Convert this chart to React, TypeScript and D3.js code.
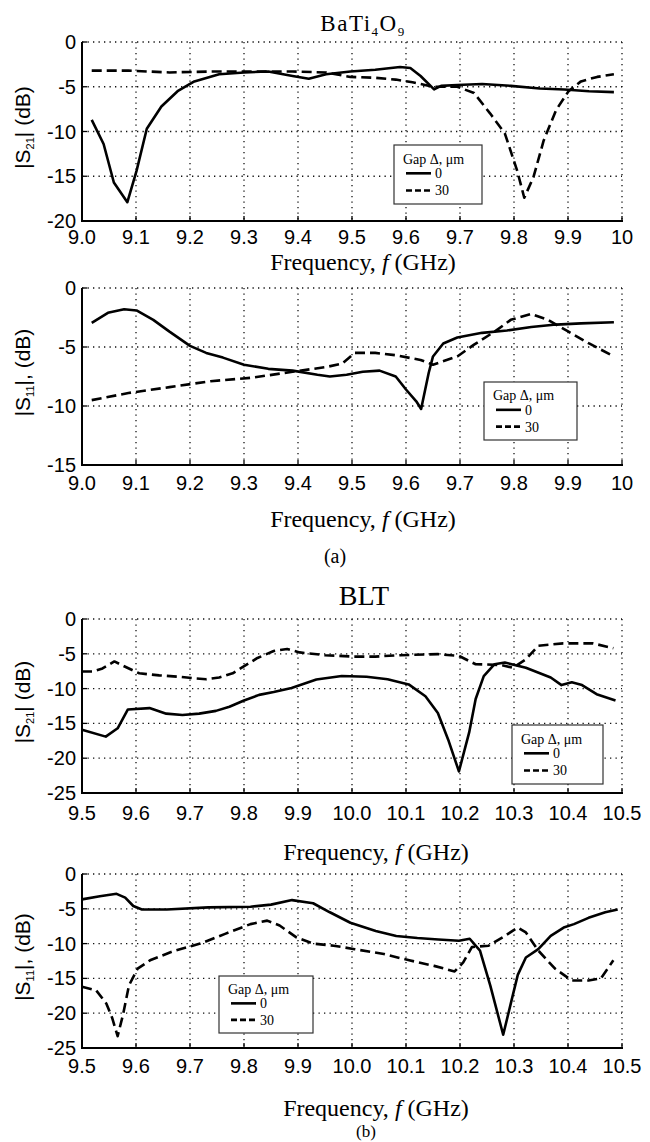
import React from 'react';
import * as d3 from 'd3';

// ---------- Data ----------
// Panel (a) top: BaTi4O9 |S21|
const aS21SolidF = [9.018, 9.04, 9.059, 9.084, 9.101, 9.12, 9.147, 9.177, 9.208, 9.254, 9.3, 9.345, 9.39, 9.42, 9.452, 9.497, 9.543, 9.589, 9.608, 9.627, 9.652, 9.665, 9.695, 9.741, 9.794, 9.848, 9.893, 9.939, 9.985];
const aS21SolidV = [-8.7, -11.4, -15.7, -17.9, -14.4, -9.7, -7.2, -5.5, -4.4, -3.6, -3.4, -3.3, -3.8, -4.1, -3.6, -3.3, -3.1, -2.8, -2.9, -3.8, -5.3, -4.9, -4.8, -4.7, -4.9, -5.2, -5.3, -5.5, -5.6];
const aS21DashF = [9.018, 9.086, 9.162, 9.238, 9.315, 9.39, 9.452, 9.497, 9.543, 9.581, 9.612, 9.65, 9.695, 9.726, 9.756, 9.783, 9.806, 9.819, 9.836, 9.855, 9.878, 9.901, 9.924, 9.954, 9.985];
const aS21DashV = [-3.2, -3.2, -3.4, -3.3, -3.3, -3.3, -3.4, -3.9, -4.0, -4.2, -4.5, -5.0, -5.0, -5.7, -8.0, -10.2, -14.4, -17.4, -15.1, -11.0, -7.6, -5.5, -4.4, -3.9, -3.6];

// Panel (a) bottom: BaTi4O9 |S11|
const aS11SolidF = [9.018, 9.048, 9.078, 9.101, 9.132, 9.162, 9.2, 9.23, 9.261, 9.3, 9.345, 9.39, 9.436, 9.459, 9.49, 9.52, 9.551, 9.581, 9.6, 9.619, 9.628, 9.642, 9.65, 9.669, 9.695, 9.741, 9.787, 9.832, 9.878, 9.924, 9.985];
const aS11SolidV = [-2.95, -2.1, -1.8, -1.9, -2.7, -3.7, -4.9, -5.5, -5.9, -6.5, -6.85, -7.0, -7.35, -7.5, -7.35, -7.1, -7.0, -7.5, -8.6, -9.6, -10.25, -7.2, -5.8, -4.7, -4.2, -3.8, -3.6, -3.3, -3.1, -3.0, -2.9];
const aS11DashF = [9.018, 9.086, 9.162, 9.238, 9.315, 9.39, 9.452, 9.482, 9.505, 9.543, 9.581, 9.627, 9.65, 9.695, 9.726, 9.764, 9.794, 9.832, 9.863, 9.901, 9.939, 9.985];
const aS11DashV = [-9.5, -8.9, -8.4, -7.9, -7.6, -7.1, -6.7, -6.4, -5.5, -5.5, -5.7, -6.1, -6.5, -5.8, -4.8, -3.7, -2.7, -2.2, -2.7, -3.7, -4.7, -5.8];

// Panel (b) top: BLT |S21|
const bS21SolidF = [9.5, 9.544, 9.566, 9.585, 9.625, 9.656, 9.686, 9.717, 9.748, 9.773, 9.8, 9.828, 9.855, 9.888, 9.934, 9.981, 10.027, 10.066, 10.105, 10.136, 10.159, 10.178, 10.198, 10.217, 10.229, 10.244, 10.264, 10.283, 10.322, 10.368, 10.388, 10.407, 10.426, 10.453, 10.488];
const bS21SolidV = [-15.9, -16.9, -15.7, -13.0, -12.8, -13.6, -13.8, -13.6, -13.2, -12.6, -11.7, -10.9, -10.5, -9.9, -8.7, -8.2, -8.3, -8.65, -9.4, -11.1, -13.5, -17.3, -21.9, -16.3, -11.5, -8.2, -6.5, -6.25, -7.0, -8.4, -9.5, -9.1, -9.5, -10.8, -11.7];
const bS21DashF = [9.5, 9.52, 9.538, 9.56, 9.581, 9.606, 9.643, 9.68, 9.705, 9.73, 9.754, 9.779, 9.804, 9.825, 9.855, 9.88, 9.903, 9.95, 10.004, 10.043, 10.089, 10.159, 10.198, 10.229, 10.275, 10.298, 10.322, 10.345, 10.391, 10.446, 10.484];
const bS21DashV = [-7.55, -7.55, -7.1, -6.1, -6.9, -7.8, -8.1, -8.3, -8.5, -8.65, -8.4, -7.8, -6.6, -5.6, -4.6, -4.3, -4.8, -5.2, -5.4, -5.4, -5.2, -5.05, -5.3, -6.5, -6.6, -7.0, -5.8, -3.85, -3.5, -3.5, -4.2];

// Panel (b) bottom: BLT |S11|
const bS11SolidF = [9.5, 9.533, 9.564, 9.58, 9.595, 9.611, 9.657, 9.734, 9.812, 9.85, 9.889, 9.928, 9.959, 9.997, 10.044, 10.082, 10.121, 10.16, 10.198, 10.218, 10.237, 10.256, 10.28, 10.295, 10.307, 10.322, 10.345, 10.368, 10.392, 10.411, 10.438, 10.469, 10.492];
const bS11SolidV = [-3.65, -3.2, -2.85, -3.4, -4.6, -5.1, -5.1, -4.8, -4.7, -4.4, -3.75, -4.2, -5.5, -7.0, -8.2, -8.9, -9.2, -9.4, -9.6, -9.3, -11.0, -16.0, -23.1, -18.3, -14.5, -12.0, -10.8, -8.9, -7.7, -7.2, -6.3, -5.5, -5.1];
const bS11DashF = [9.5, 9.526, 9.545, 9.556, 9.566, 9.576, 9.587, 9.603, 9.626, 9.672, 9.719, 9.765, 9.812, 9.843, 9.866, 9.897, 9.928, 9.966, 10.005, 10.059, 10.106, 10.152, 10.19, 10.206, 10.222, 10.253, 10.283, 10.307, 10.322, 10.345, 10.376, 10.407, 10.438, 10.461, 10.484];
const bS11DashV = [-16.2, -16.7, -18.6, -20.7, -23.3, -20.2, -16.0, -13.6, -12.4, -11.0, -10.0, -8.6, -7.2, -6.7, -7.4, -9.1, -10.0, -10.3, -10.8, -11.5, -12.4, -13.2, -14.0, -12.7, -10.5, -10.3, -8.9, -7.7, -8.4, -11.0, -13.6, -15.3, -15.3, -15.0, -12.4];

// Ticks
const aXTicks = [9.0, 9.1, 9.2, 9.3, 9.4, 9.5, 9.6, 9.7, 9.8, 9.9, 10];
const aXLabels = ['9.0', '9.1', '9.2', '9.3', '9.4', '9.5', '9.6', '9.7', '9.8', '9.9', '10'];
const bXTicks = [9.5, 9.6, 9.7, 9.8, 9.9, 10.0, 10.1, 10.2, 10.3, 10.4, 10.5];
const bXLabels = ['9.5', '9.6', '9.7', '9.8', '9.9', '10.0', '10.1', '10.2', '10.3', '10.4', '10.5'];
const yTicks20 = [0, -5, -10, -15, -20];
const yTicks15 = [0, -5, -10, -15];
const yTicks25 = [0, -5, -10, -15, -20, -25];
const legendTitle = 'Gap Δ, μm';
const legendLabels = ['0', '30'];

// ---------- Layout ----------
const W = 650;
const H = 1142;
const PL = 82;
const PR = 622;
const SANS = 'Arial, "Liberation Sans", Helvetica, sans-serif';
const SERIF = '"Times New Roman", "Liberation Serif", Times, serif';

type PanelProps = {
  y0: number;
  y1: number;
  xDomain: [number, number];
  yDomain: [number, number];
  xTicks: number[];
  xLabels: string[];
  yTicks: number[];
  sub: string;
  comma: boolean;
  tickBase: number;
  freqBase: number;
  freqX: number;
  legend: { x: number; y: number; w: number; h: number };
  solidF: number[];
  solidV: number[];
  dashF: number[];
  dashV: number[];
};

function Panel(p: PanelProps) {
  const x = d3.scaleLinear().domain(p.xDomain).range([PL, PR]);
  const y = d3.scaleLinear().domain(p.yDomain).range([p.y1, p.y0]);
  const line = d3
    .line<[number, number]>()
    .x((d) => x(d[0]))
    .y((d) => y(d[1]));
  const solid = p.solidF.map((f, i) => [f, p.solidV[i]] as [number, number]);
  const dash = p.dashF.map((f, i) => [f, p.dashV[i]] as [number, number]);
  const yc = (p.y0 + p.y1) / 2 - 4;
  const L = p.legend;
  const dot = { stroke: '#111', strokeWidth: 1.3, strokeDasharray: '1.3,4.2' };
  return (
    <g>
      {/* grid */}
      {p.xTicks.map((t, i) =>
        i === 0 ? null : (
          <line key={'gx' + i} x1={x(t)} x2={x(t)} y1={p.y0} y2={p.y1} {...dot} />
        )
      )}
      {p.yTicks.map((t, i) =>
        t === p.yDomain[0] ? null : (
          <line key={'gy' + i} x1={PL} x2={PR} y1={y(t)} y2={y(t)} {...dot} />
        )
      )}
      {/* axes */}
      <line x1={PL} x2={PL} y1={p.y0} y2={p.y1 + 1} stroke="#000" strokeWidth={2} />
      <line x1={PL} x2={PR + 1} y1={p.y1} y2={p.y1} stroke="#000" strokeWidth={2.2} />
      {p.xTicks.map((t, i) => (
        <line key={'tx' + i} x1={x(t)} x2={x(t)} y1={p.y1} y2={p.y1 - 5} stroke="#000" strokeWidth={1.3} />
      ))}
      {p.yTicks.map((t, i) => (
        <line key={'ty' + i} x1={PL} x2={PL + 5} y1={y(t)} y2={y(t)} stroke="#000" strokeWidth={1.3} />
      ))}
      {/* tick labels */}
      {p.xTicks.map((t, i) => (
        <text key={'lx' + i} x={x(t)} y={p.tickBase} textAnchor="middle" fontFamily={SANS} fontSize={20} fill="#000">
          {p.xLabels[i]}
        </text>
      ))}
      {p.yTicks.map((t, i) => (
        <text key={'ly' + i} x={PL - 6} y={y(t) + 7} textAnchor="end" fontFamily={SANS} fontSize={20} fill="#000">
          {String(t)}
        </text>
      ))}
      {/* y label */}
      <text transform={`translate(30,${yc}) rotate(-90)`} textAnchor="middle" fontFamily={SANS} fontSize={21} fill="#000">
        <tspan>|S</tspan>
        <tspan fontSize={11} dy={4}>{p.sub}</tspan>
        <tspan dy={-4}>|{p.comma ? ',' : ''} (dB)</tspan>
      </text>
      {/* x label */}
      <text x={p.freqX} y={p.freqBase} textAnchor="middle" fontFamily={SERIF} fontSize={24} fill="#000">
        <tspan>Frequency, </tspan>
        <tspan fontStyle="italic">f</tspan>
        <tspan> (GHz)</tspan>
      </text>
      {/* curves */}
      <path d={line(solid) || ''} fill="none" stroke="#000" strokeWidth={2.6} strokeLinejoin="round" />
      <path d={line(dash) || ''} fill="none" stroke="#000" strokeWidth={2.6} strokeDasharray="10,5" strokeLinejoin="round" />
      {/* legend */}
      <g>
        <rect x={L.x} y={L.y} width={L.w} height={L.h} fill="#fff" stroke="#333" strokeWidth={1.2} />
        <text x={L.x + 9} y={L.y + L.h * 0.23 + 5} fontFamily={SERIF} fontSize={14} fill="#000">
          {legendTitle}
        </text>
        <line x1={L.x + 12} x2={L.x + 37} y1={L.y + L.h * 0.48} y2={L.y + L.h * 0.48} stroke="#000" strokeWidth={2.6} />
        <text x={L.x + 41} y={L.y + L.h * 0.48 + 5} fontFamily={SERIF} fontSize={14} fill="#000">
          {legendLabels[0]}
        </text>
        <line x1={L.x + 12} x2={L.x + 37} y1={L.y + L.h * 0.77} y2={L.y + L.h * 0.77} stroke="#000" strokeWidth={2.6} strokeDasharray="6,3" />
        <text x={L.x + 41} y={L.y + L.h * 0.77 + 5} fontFamily={SERIF} fontSize={14} fill="#000">
          {legendLabels[1]}
        </text>
      </g>
    </g>
  );
}

export default function App() {
  return (
    <svg width={W} height={H} viewBox={`0 0 ${W} ${H}`} style={{ display: 'block', position: 'absolute', left: 0, top: 0, background: '#fff' }}>
      <rect x={0} y={0} width={W} height={H} fill="#fff" />
      {/* Title (a) */}
      <text x={363} y={31} textAnchor="middle" fontFamily={SERIF} fontSize={23} letterSpacing={1.5} fill="#000">
        <tspan>BaTi</tspan>
        <tspan fontSize={13} dy={5}>4</tspan>
        <tspan dy={-5}>O</tspan>
        <tspan fontSize={13} dy={5}>9</tspan>
      </text>
      <Panel
        y0={42}
        y1={221}
        xDomain={[9, 10]}
        yDomain={[-20, 0]}
        xTicks={aXTicks}
        xLabels={aXLabels}
        yTicks={yTicks20}
        sub="21"
        comma={false}
        tickBase={244}
        freqBase={270}
        freqX={363}
        legend={{ x: 394, y: 145, w: 88, h: 59 }}
        solidF={aS21SolidF}
        solidV={aS21SolidV}
        dashF={aS21DashF}
        dashV={aS21DashV}
      />
      <Panel
        y0={288}
        y1={465}
        xDomain={[9, 10]}
        yDomain={[-15, 0]}
        xTicks={aXTicks}
        xLabels={aXLabels}
        yTicks={yTicks15}
        sub="11"
        comma={true}
        tickBase={490}
        freqBase={527}
        freqX={363}
        legend={{ x: 484, y: 382, w: 93, h: 58 }}
        solidF={aS11SolidF}
        solidV={aS11SolidV}
        dashF={aS11DashF}
        dashV={aS11DashV}
      />
      <text x={335} y={563} textAnchor="middle" fontFamily={SERIF} fontSize={20} fill="#000">(a)</text>
      <text x={364} y={605} textAnchor="middle" fontFamily={SERIF} fontSize={28} fill="#000">BLT</text>
      <Panel
        y0={619}
        y1={793}
        xDomain={[9.5, 10.5]}
        yDomain={[-25, 0]}
        xTicks={bXTicks}
        xLabels={bXLabels}
        yTicks={yTicks25}
        sub="21"
        comma={false}
        tickBase={820}
        freqBase={860}
        freqX={376}
        legend={{ x: 512, y: 725, w: 91, h: 59 }}
        solidF={bS21SolidF}
        solidV={bS21SolidV}
        dashF={bS21DashF}
        dashV={bS21DashV}
      />
      <Panel
        y0={874}
        y1={1048}
        xDomain={[9.5, 10.5]}
        yDomain={[-25, 0]}
        xTicks={bXTicks}
        xLabels={bXLabels}
        yTicks={yTicks25}
        sub="11"
        comma={true}
        tickBase={1073}
        freqBase={1116}
        freqX={376}
        legend={{ x: 219, y: 976, w: 94, h: 57 }}
        solidF={bS11SolidF}
        solidV={bS11SolidV}
        dashF={bS11DashF}
        dashV={bS11DashV}
      />
      <text x={366} y={1137} textAnchor="middle" fontFamily={SERIF} fontSize={17} fill="#000">(b)</text>
    </svg>
  );
}
